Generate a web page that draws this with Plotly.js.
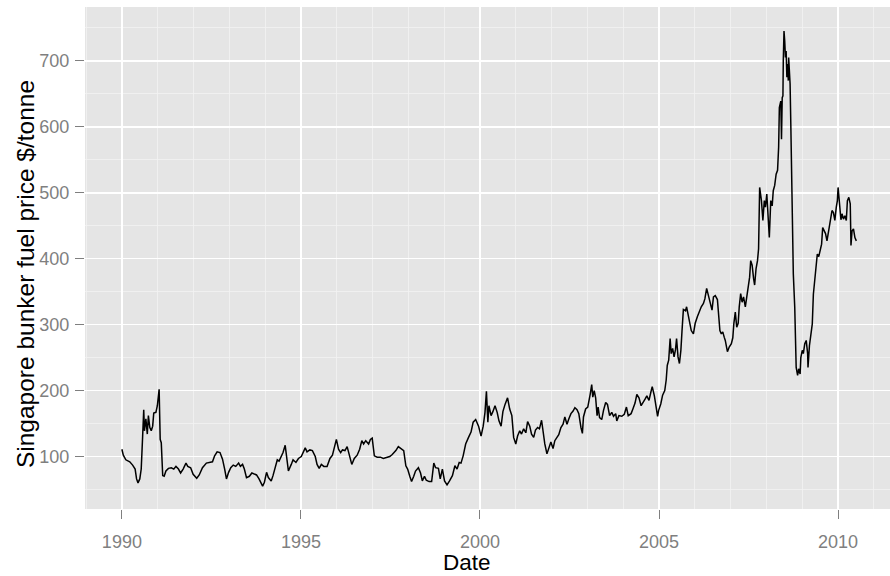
<!DOCTYPE html>
<html>
<head>
<meta charset="utf-8">
<script src="https://cdn.plot.ly/plotly-3.0.1.min.js"></script>
<style>html,body{margin:0;padding:0;background:#fff;}#chart{width:890px;height:576px;}</style>
</head>
<body>
<div id="chart"></div>
<script>
// Decimal-year dates
const years = [
1990.00,1990.04,1990.11,1990.22,1990.30,1990.37,1990.41,1990.45,1990.50,1990.54,1990.58,1990.61,1990.63,1990.67,1990.71,1990.74,1990.78,1990.82,1990.86,1990.89,1990.95,1990.99,
1991.04,1991.07,1991.10,1991.14,1991.18,1991.23,1991.30,1991.38,1991.45,1991.51,1991.58,1991.64,1991.71,1991.79,1991.84,1991.92,1991.99,
1992.09,1992.16,1992.25,1992.36,1992.44,1992.53,1992.59,1992.66,1992.74,1992.81,1992.87,1992.92,1992.98,
1993.04,1993.11,1993.18,1993.26,1993.31,1993.37,1993.42,1993.48,1993.56,1993.63,1993.70,1993.76,1993.83,1993.93,1993.98,
1994.04,1994.09,1994.17,1994.22,1994.28,1994.34,1994.39,1994.45,1994.50,1994.56,1994.60,1994.65,1994.73,1994.78,1994.86,1994.93,
1995.01,1995.06,1995.12,1995.17,1995.25,1995.32,1995.40,1995.45,1995.51,1995.57,1995.64,1995.73,1995.81,1995.88,1995.94,1995.99,
1996.05,1996.11,1996.16,1996.23,1996.29,1996.35,1996.42,1996.49,1996.57,1996.64,1996.70,1996.75,1996.81,1996.89,1996.94,1996.99,
1997.05,1997.13,1997.22,1997.30,1997.39,1997.48,1997.55,1997.65,1997.72,1997.80,1997.87,1997.93,1997.98,
1998.04,1998.09,1998.15,1998.20,1998.28,1998.34,1998.39,1998.45,1998.50,1998.58,1998.65,1998.71,1998.76,1998.84,1998.89,1998.95,
1999.01,1999.08,1999.15,1999.23,1999.30,1999.36,1999.42,1999.47,1999.53,1999.60,1999.68,1999.75,1999.81,1999.88,1999.96,
2000.03,2000.09,2000.14,2000.18,2000.22,2000.25,2000.31,2000.36,2000.42,2000.48,2000.53,2000.59,2000.64,2000.70,2000.77,2000.83,2000.89,2000.94,
2001.00,2001.05,2001.11,2001.16,2001.22,2001.28,2001.33,2001.39,2001.44,2001.50,2001.55,2001.61,2001.66,2001.72,2001.76,2001.81,2001.87,2001.93,2001.98,
2002.04,2002.09,2002.15,2002.20,2002.26,2002.32,2002.37,2002.43,2002.48,2002.54,2002.60,2002.65,2002.71,2002.76,2002.82,2002.86,2002.89,2002.95,
2003.01,2003.04,2003.08,2003.12,2003.15,2003.19,2003.23,2003.27,2003.30,2003.34,2003.40,2003.45,2003.51,2003.56,2003.62,2003.68,2003.73,2003.79,2003.82,2003.88,2003.96,
2004.03,2004.09,2004.14,2004.22,2004.27,2004.33,2004.38,2004.44,2004.50,2004.55,2004.61,2004.66,2004.72,2004.77,2004.81,2004.87,2004.92,2004.96,2004.99,
2005.05,2005.10,2005.16,2005.20,2005.23,2005.27,2005.31,2005.34,2005.38,2005.42,2005.46,2005.49,2005.53,2005.57,2005.61,2005.64,2005.68,2005.74,2005.77,2005.81,2005.85,2005.90,2005.96,
2006.01,2006.07,2006.13,2006.18,2006.24,2006.28,2006.33,2006.39,2006.44,2006.48,2006.52,2006.57,2006.63,2006.67,2006.70,2006.74,2006.78,2006.82,2006.85,2006.91,2006.96,
2007.02,2007.06,2007.09,2007.13,2007.17,2007.21,2007.24,2007.28,2007.32,2007.36,2007.41,2007.45,2007.49,2007.53,2007.56,2007.60,2007.64,2007.67,2007.71,2007.75,2007.78,2007.81,2007.86,2007.90,2007.94,2007.97,
2008.01,2008.05,2008.08,2008.12,2008.16,2008.19,2008.23,2008.27,2008.31,2008.34,2008.36,2008.40,2008.42,2008.44,2008.46,2008.47,2008.49,2008.51,2008.53,2008.55,2008.57,2008.59,2008.61,2008.62,2008.64,2008.66,2008.68,2008.70,2008.72,2008.75,2008.79,2008.83,2008.87,2008.90,2008.94,2008.96,
2009.00,2009.03,2009.07,2009.11,2009.15,2009.16,2009.20,2009.24,2009.28,2009.31,2009.35,2009.39,2009.42,2009.46,2009.50,2009.54,2009.57,2009.61,2009.65,2009.69,2009.72,2009.76,2009.80,2009.83,2009.87,2009.91,2009.95,2009.98,
2010.00,2010.04,2010.08,2010.11,2010.15,2010.19,2010.23,2010.26,2010.30,2010.34,2010.36,2010.39,2010.43,2010.47,2010.51
];

// Singapore bunker fuel price, $/tonne
const price = [
111,102,95,92,87,81,66,60,66,81,131,171,139,157,134,162,144,139,146,166,167,177,
202,126,121,71,70,78,82,83,81,85,81,75,81,90,85,83,73,
67,72,83,90,91,92,101,107,106,96,81,66,76,
83,87,85,90,85,88,81,68,70,75,73,72,66,55,61,
76,68,63,71,83,95,93,100,106,117,96,78,88,95,91,97,
100,107,113,107,110,109,100,88,82,88,85,85,97,102,115,126,
111,106,110,109,115,104,88,97,102,111,124,119,124,119,126,128,
101,99,99,97,98,100,103,109,115,112,109,86,81,
70,62,70,78,83,75,63,70,64,62,62,90,83,82,66,81,
63,57,63,71,86,81,91,90,101,119,129,137,152,156,146,
131,146,167,199,152,177,162,168,177,167,154,146,168,179,189,172,162,129,
119,131,139,134,142,136,153,146,134,129,140,144,142,155,137,119,104,114,122,
112,124,129,133,144,149,160,149,157,165,169,174,171,165,144,135,160,172,
175,187,195,209,190,200,189,162,175,159,156,170,182,179,162,167,161,165,154,162,161,
164,175,162,165,172,181,194,189,177,181,187,192,185,197,206,192,176,161,170,
180,193,200,216,238,246,279,256,264,251,262,279,251,241,261,289,323,321,327,316,304,291,286,
302,312,321,327,332,339,355,342,334,322,342,344,338,306,291,286,289,281,276,259,266,
271,280,302,319,296,302,327,347,334,342,327,342,357,372,397,390,370,360,385,397,415,508,488,458,488,478,
498,453,432,488,480,503,511,528,534,569,629,639,581,644,647,700,745,730,705,715,675,695,670,705,685,665,604,543,458,377,326,235,223,233,225,250,
261,256,271,276,256,235,268,286,301,346,367,392,407,403,415,422,447,442,438,427,437,453,463,473,470,458,478,488,
508,475,459,468,460,465,458,488,493,483,420,442,445,432,427
];

const xTicks = [1990, 1995, 2000, 2005, 2010];
const xTickLabels = ["1990", "1995", "2000", "2005", "2010"];
const yTicks = [100, 200, 300, 400, 500, 600, 700];
const yTickLabels = ["100", "200", "300", "400", "500", "600", "700"];
const xTitle = "Date";
const yTitle = "Singapore bunker fuel price $/tonne";

const FONT = "Liberation Sans, Arial, Helvetica, sans-serif";

const trace = {
  x: years, y: price, type: "scatter", mode: "lines",
  line: {color: "#000000", width: 1.5},
  hoverinfo: "x+y"
};

const layout = {
  width: 890, height: 576,
  paper_bgcolor: "#ffffff",
  plot_bgcolor: "#E5E5E5",
  margin: {l: 85, r: 0, t: 7, b: 67, pad: 0},
  showlegend: false,
  font: {family: FONT},
  xaxis: {
    range: [1988.97, 2011.45],
    tickmode: "array", tickvals: xTicks, ticktext: xTickLabels,
    ticks: "outside", ticklen: 9, tickwidth: 1, tickcolor: "#7F7F7F",
    ticklabelstandoff: 7,
    tickfont: {family: FONT, size: 18, color: "#7F7F7F"},
    showgrid: true, gridcolor: "#FFFFFF", gridwidth: 1.6,
    minor: {tick0: 1990, dtick: 1, showgrid: true, gridcolor: "#F2F2F2", gridwidth: 0.8, ticks: ""},
    zeroline: false, showline: false
  },
  yaxis: {
    range: [20.4, 781.6],
    tickmode: "array", tickvals: yTicks, ticktext: yTickLabels,
    ticks: "outside", ticklen: 9, tickwidth: 1, tickcolor: "#7F7F7F",
    ticklabelstandoff: 2,
    tickfont: {family: FONT, size: 18, color: "#7F7F7F"},
    showgrid: true, gridcolor: "#FFFFFF", gridwidth: 1.6,
    minor: {tick0: 0, dtick: 50, showgrid: true, gridcolor: "#F2F2F2", gridwidth: 0.8, ticks: ""},
    zeroline: false, showline: false
  },
  annotations: [
    {text: xTitle, xref: "paper", yref: "paper", x: 0.4745, y: -0.1335,
     xanchor: "center", yanchor: "bottom", showarrow: false, borderpad: 0,
     font: {family: FONT, size: 22.5, color: "#000000"}},
    {text: yTitle, xref: "paper", yref: "paper", x: -0.0745, y: 0.468,
     xanchor: "center", yanchor: "middle", showarrow: false, textangle: -90, borderpad: 0,
     font: {family: FONT, size: 24.5, color: "#000000"}}
  ]
};

Plotly.newPlot("chart", [trace], layout, {displayModeBar: false, staticPlot: true});
</script>
</body>
</html>
